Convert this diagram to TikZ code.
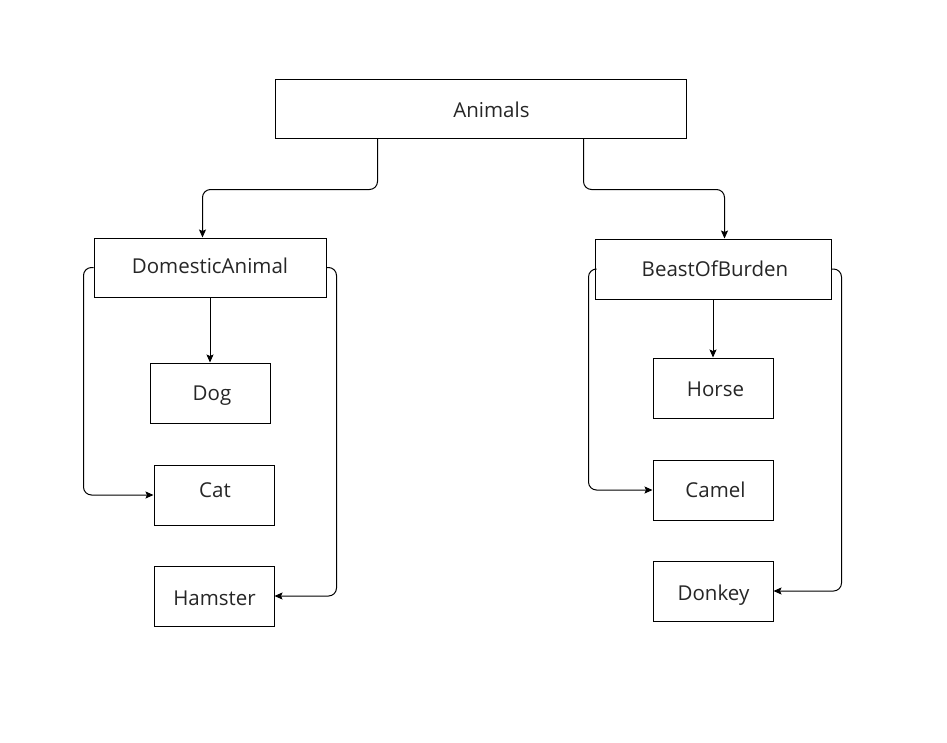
\documentclass[tikz,border=0pt]{standalone}
\usepackage{fontspec}
\setmainfont{Open Sans}
\usetikzlibrary{arrows.meta}
\begin{document}
\begin{tikzpicture}[x=1pt,y=-1pt,
  box/.style={draw=black, line width=1pt, inner sep=0pt, minimum width=120pt, minimum height=60pt},
  lbl/.style={anchor=base, inner sep=0pt, font=\fontsize{20.5}{24}\selectfont, text=black!85},
  conn/.style={draw=black, line width=1pt, rounded corners=8pt, -{Stealth[length=8pt,width=7pt,inset=1.5pt]}}]
\useasboundingbox (0,0) rectangle (947,742);
% boxes
\node[box, minimum width=411pt, minimum height=59pt] (animals) at (480.5,108.5) {};
\node[box, minimum width=232pt, minimum height=59pt] (dom) at (210,267.5) {};
\node[box] (dog) at (210,393) {};
\node[box] (cat) at (214,495) {};
\node[box] (ham) at (214,596) {};
\node[box, minimum width=236pt, minimum height=60pt] (bob) at (713,269) {};
\node[box] (horse) at (713,388) {};
\node[box] (camel) at (713,490) {};
\node[box] (donkey) at (713,591) {};
% texts
\node[lbl] at ([shift={(11,8.8)}]animals.center) {Animals};
\node[lbl] at ([shift={(0,5.8)}]dom.center) {DomesticAnimal};
\node[lbl] at ([shift={(2,7)}]dog.center) {Dog};
\node[lbl] at ([shift={(1,2.5)}]cat.center) {Cat};
\node[lbl] at ([shift={(0.5,9)}]ham.center) {Hamster};
\node[lbl] at ([shift={(2,7.7)}]bob.center) {BeastOfBurden};
\node[lbl] at ([shift={(2.5,8.7)}]horse.center) {Horse};
\node[lbl] at ([shift={(2.5,7.7)}]camel.center) {Camel};
\node[lbl] at ([shift={(0.5,9)}]donkey.center) {Donkey};
% connectors
\draw[conn] ([xshift=103pt]animals.south west) -- ++(0,51) -| ([xshift=109pt]dom.north west);
\draw[conn] ([xshift=309pt]animals.south west) -- ++(0,51) -| ([xshift=130pt]bob.north west);
\draw[conn] (dom.south) -- (dog.north);
\draw[conn] (dom.west) -- ++(-10,0) |- (cat.west);
\draw[conn] (dom.east) -- ++(10,0) |- (ham.east);
\draw[conn] (bob.south) -- (horse.north);
\draw[conn] (bob.west) -- ++(-6,0) |- (camel.west);
\draw[conn] (bob.east) -- ++(10,0) |- (donkey.east);
\end{tikzpicture}
\end{document}
